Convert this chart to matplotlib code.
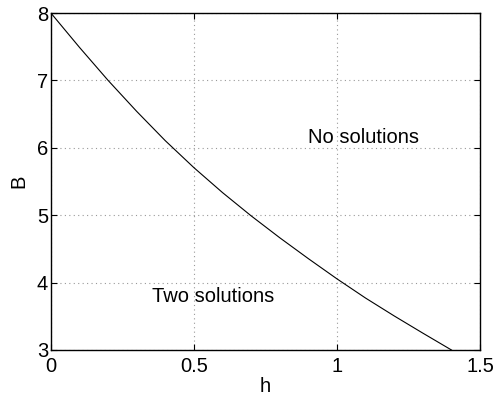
import matplotlib
matplotlib.use('Agg')
import matplotlib.pyplot as plt

# values
h = [0.0, 0.1, 0.2, 0.3, 0.4, 0.5, 0.6, 0.7, 0.8, 0.9, 1.0, 1.1, 1.2, 1.3, 1.4]
B = [8.0, 7.49, 7.0, 6.54, 6.105, 5.705, 5.335, 4.99, 4.665, 4.355, 4.055, 3.77, 3.505, 3.25, 3.0]

xticks = [0, 0.5, 1, 1.5]
xticklabels = ['0', '0.5', '1', '1.5']
yticks = [3, 4, 5, 6, 7, 8]

plt.rcParams['font.family'] = ['Liberation Sans', 'DejaVu Sans']

fig = plt.figure(figsize=(4.99, 3.95), dpi=100)
ax = fig.add_axes([0.102, 0.114, 0.86, 0.853])

ax.plot(h, B, color='black', linewidth=0.8)

ax.set_xlim(0, 1.5)
ax.set_ylim(3, 8)
ax.set_xticks(xticks)
ax.set_xticklabels(xticklabels)
ax.set_yticks(yticks)
ax.tick_params(direction='in', length=4, width=0.8, labelsize=14.5,
               top=True, right=True)
ax.tick_params(axis='x', pad=5)
ax.tick_params(axis='y', pad=2)
ax.grid(True, linestyle=(0, (1, 3)), color='#999999', linewidth=0.8)
for s in ax.spines.values():
    s.set_linewidth(1.0)

ax.set_xlabel('h', fontsize=14.5, labelpad=1)
ax.set_ylabel('B', fontsize=14.5, labelpad=6)

ax.text(0.897, 6.16, 'No solutions', fontsize=14.5, va='center', ha='left')
ax.text(0.355, 3.80, 'Two solutions', fontsize=14.5, va='center', ha='left')

fig.savefig('out.png', dpi=100)
